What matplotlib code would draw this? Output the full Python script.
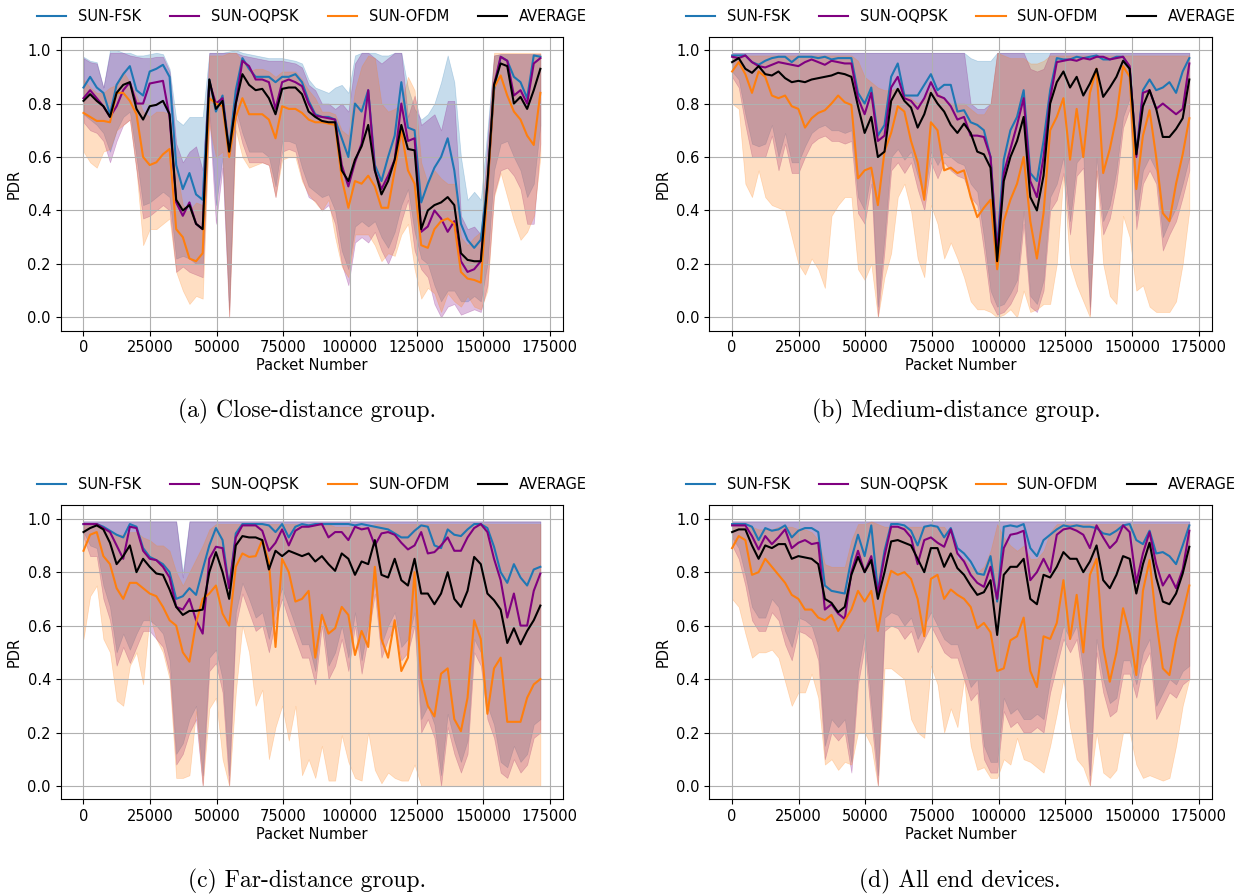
import numpy as np
import matplotlib
matplotlib.use("Agg")
import matplotlib.pyplot as plt

# x positions: packet number of each sample (70 samples, 0 .. 171500)
packet_number = np.linspace(0, 171500, 70)

series_names = ["SUN-FSK", "SUN-OQPSK", "SUN-OFDM", "AVERAGE"]
captions = ["(a) Close-distance group.", "(b) Medium-distance group.",
            "(c) Far-distance group.", "(d) All end devices."]
xticks = [0, 25000, 50000, 75000, 100000, 125000, 150000, 175000]
yticks = [0.0, 0.2, 0.4, 0.6, 0.8, 1.0]

# ---------------- panel (a): PDR in percent ----------------
a_fsk = [86,90,86,84,76,87,91,94,85,83,92,93,94.5,90,57,48,54,46,44,89,77,83,63,85,97,93,90,90,90,88,90,90,91,88,81,76,75,75,74,67,60,80,77,85,57,51,60,68,88,71,70,43,50,56,60,67,55,35,29,26,29,50,85,97.5,96,90,88,82,98,97.5]
a_oqpsk = [82,85,82,79,75,79,85,88,80,80,87.5,88,88.5,75,43,38,43,35,33,88,80,82,61,80,96,94,89,89,88,78,88,89,88,86.5,80,75.5,75,74.5,74,57,49,58,65,85,55,48,53,59,80,66,67,32,34,40,37,32,36,21,17,18,21,48,87,97.5,96,83,85,80,95,97]
a_ofdm = [76.5,75,73.5,73.5,73,84,84,81,76,60,57,58,61,63,33,30,22,21,24,82,80,79,60,75,82,76,76,76,74,67,79,78,78,76.5,74,73,73,72.5,72,52,41,51,50,53,49,41,41,55,70,55,50,27,26,33,36,37,35,17,14.5,14,13,47,86,90.5,83,77,74,68,64.5,84]
a_avg = [81,83.5,81,79,75,84,87,88,78,74,79,79.5,81,76,44,40,42,35,33,89,78,81,62,80,91,87,85,85.5,82,76,85.5,86,86,83.5,77,75,73.5,73,73,55,51,59,64,72,55,46,51,59,72,63,62.5,33,40,42,43,45,42,24,21.5,21,21,50,87,95,94,80,82.5,78,85,93]
a_fsk_hi = [97.5,96,95.5,86,100,100,99,99,98,98,98.5,99,98.5,93,74,72,75,75,75,99,99,99,99.5,100,99,98.5,98,97.5,97,97,97,96.5,96,95,89,86,85,84,86,87,84,98,99,99,99,98,98,99,99,86,78,74,76,80,88,98,88,60,44,47,44,70,98,98.5,98.5,98.5,98.5,98.5,98.5,98.5]
a_fsk_lo = [76,74,72,69,62,70,75,77,60,42,43,45,47,45,22,23,22,20,20,78,42,60,3,78,69,62,62,62,60,49,66,66,65,56,49,47,45,46,40,25,18,34,36,34,36,30,26,32,42,48,32,22,20,12,6,10,10,6,6,8,6,20,55,65,66,60,55,45,50,72]
a_oqpsk_hi = [97,95.5,95,86,99,99,99,98,97.5,97,97,97.5,97.5,92,65,58,62,64,55,99,99,99,99,99,98,97.5,97,96.5,96,96,96,95.5,95,93.5,87,85,80,80,78,80,77,95,99,99,97,95,97,99,99,75,83,72,74,76,70,81,81,38,33,34,31,66,98,98.5,98.5,98.5,98.5,98.5,98.5,98.5]
a_oqpsk_lo = [73,70,69,66,58,66,72,74,55,37,38,40,42,40,17,19,17,16,15,75,35,56,0,75,65,58,58,58,57,45,62,63,62,52,45,43.5,40,42,35,20,12,28,30,28,32,25,20,26,36,44,25,18,15,5,0,4,5,1,2,3,2,12,46,55,56,53,48,35,35,65]
a_ofdm_hi = [89,86,84,84,86,87,92,88,83,77,75,77,77,76,56,42,40,43,42,98,98,98,99,99,96,92,93,93,92,90,92,92,92,89,85,82,77,77,76,70,68,85,94,98,97,80,77,78,80,90,85,58,50,55,52,50,50,30,27,30,32,60,99,99,99,99,99,99,99,99]
a_ofdm_lo = [62,58,56,62,63,70,72,74,55,27,33,33,35,37,17,10,5,8,7,72,60,62,0,70,60,56,57,58,57,45,59,60,60,51,46,43,40,44,30,19,15,31,31,31,27,21,24,23,31,35,18,7,11,9,2,9,6,4,8,4,3,10,45,54,45,36,29,32,38,60]

# ---------------- panel (b) ----------------
b_fsk = [98,98,98,95.5,94.5,96,97,97.5,97.5,95.5,97.5,97.5,97.5,97,97.5,96.5,97,97,97,84,80,86,68,72,90,95,83,83,83,87,91,85,87,87,77,77.5,73,72,70,60,26,59,70,75,85,54,51,66,85,97,96.5,96.5,97.5,97,97.5,98,96.5,96.5,97.5,97.5,93,61,85,89,85,86,88,84,92,97]
b_oqpsk = [97.5,97,98,95.5,94,93.5,94.5,95.5,95,94.5,94,95.5,96.5,95.5,94.5,96,95.5,95,95,82,76,84,66,68,86,90,82,81,78,82,88,83,82,79,74,75,68,68,67.5,60,24,54,63,72,82,51,45,60,82,95.5,96,96.5,96,97,96.5,97.5,97.5,96.5,97,97.5,94,60,84,85,78,80,78,76,78,95]
b_ofdm = [92,95.5,91,84,92,90,83,82,83,79,78,71,74.5,76.5,77.5,80,83,80.5,79.5,52,55,56,42,62,69,79,77,66,58,44,73,70,55,56,54,55,45,37.5,41,44,18,36,44,50,60,36,22,39,70,75,82,59,78,60,84,93,54,63,75,94,90,48,68,77.5,60,39,36,50,61,74.5]
b_avg = [95.5,97,93,91.5,94,91,90.5,92,89.5,88,88.5,88,89,89.5,90,90.5,91.5,91,90,79,69,75,60,62,81,85.5,81,78.5,71,76,84,80,77,72,69,72.5,69,62,61,56,21,51,60,66,75,45,40,53,80,88,92,86,90,83,87.5,93,82.5,86,90,96,93,61,79,85,78,67.5,67.5,70.5,74.5,89]
b_fsk_hi = [99,99,99,99,99,99,99,99,99,99,99,99,99,99,99,99,99,99,99,99,99,99,99,99,99,99,99,99,99,99,99,99,99,99,99,99,97,96,96,96,99,99,99,99,99,99,99,99,99,99,99,99,99,99,99,99,99,99,99,99,99,99,99,99,99,99,99,99,99,99]
b_fsk_lo = [92,89,76,65,64,65,72,60,69,58,58,64,69,71,72,70,70,69,70,45,40,55,4,30,60,63,59,62,53,45,62,57,62,60,58,57,50,47,30,10,4,5,9,14,40,8,5,14,45,50,60,36,58,61,4,60,36,42,55,75,82,38,55,60,55,30,36,41,50,60]
b_oqpsk_hi = [99,99,99,99,99,99,99,99,99,99,99,99,99,99,99,99,99,99,99,99,99,99,99,99,99,99,99,99,99,99,99,99,99,99,99,99,80,78,78,80,99,99,99,99,99,93,92,93,99,99,99,99,99,99,99,99,99,99,99,99,99,99,99,99,99,99,99,99,99,99]
b_oqpsk_lo = [90,86,72,60,60,60,68,55,65,54,54,60,65,67,68,66,66,65,66,39,35,50,0,25,55,58,54,58,48,40,58,52,58,55,53,52,45,42,25,6,1,2,5,10,35,4,2,10,40,44,54,31,53,56,1,55,31,37,50,71,78,33,50,55,50,25,31,36,45,55]
b_ofdm_hi = [98,98,98,98,98,98,98,98,98,98,98,98,98,98,98,98,98,98,98,96,90,88,86,85,85,86,84,82,80,82,86,84,82,80,80,80,78,76,76,80,99,98,97,97,97,95,95,96,98,98,98,98,98,98,98,98,98,98,98,98,98,98,98,98,98,98,98,98,98,98]
b_ofdm_lo = [80,78,50,45,55,45,42,41,40,30,20,16,22,18,11,38,42,45,45,18,14,20,0,15,24,45,50,40,22,15,42,35,22,28,22,15,6,3,3,2,0,1,3,0,10,2,3,5,5,20,53,20,12,6,0,55,20,8,5,38,30,10,12,4,2,2,2,6,20,40]

# ---------------- panel (c) ----------------
c_fsk = [98,98,98,97,95.5,94,93,98,97,89,85.7,84.5,83,80,70,71,74,71.5,81,90,96.5,92,74,94.5,98,98,98,98,97.5,95,98,93,97,98,97.5,98,98,98,98,98,98,97.5,98,97.5,97,96.5,96,94.5,93,93,95.5,97.5,97,90,89,96,94,93.5,96,98,98,96.5,89.5,80,76,83,78,75,81,82]
c_oqpsk = [98,98,98,96.5,95,90,85,97,96.5,88,85,84.5,82,78,67,66,70,62,57,85,89.5,89,74,93,97.5,97.5,97.5,95.5,88,91,96,90,95.5,97,97,97.5,98,93,95,95,92,97,96,96.5,90,94.5,95,94,91,88.5,90,95,87,87.5,90,93,88,88,93,96.5,98,95,85,77,63,72,60,60,73,79.5]
c_ofdm = [88,94,95,86,83,74,70,76,76,74,72,71,67,62,60,50,46.5,61,70,72,75,64.5,60,82,87,85.7,86,92,84,52,85,80,69,70,73,48,64,57,59,67,64,49,58,52,82,55,48,62,43,48,80,40,30,26,42,44,25,20.5,33,62,55,27,44,48,24,24,24,33,38,40]
c_avg = [95,96.5,97.5,96,91,83,86,90,80,85,82,79.5,79,73.5,67,64,65.5,65.5,66,80,87.5,80,70,90,93.5,93,93,92,81,88,86,88,87,86,87,84,86,83,80.5,87,85,79,84,83,92,79,78,85,77,75,85,72,72,68,72,80,70,67,73,85.7,83,72,69.5,66,53.5,59,53,58,62,67.5]
c_fsk_hi = [99,99,99,99,99,99,99,99,99,99,99,99,99,99,99,80,99,99,99,99,99,99,99,99,99,99,99,99,99,99,99,99,99,99,99,99,99,99,99,99,99,99,99,99,99,99,99,99,99,99,99,99,99,99,99,99,99,99,99,99,99,99,99,99,99,99,99,99,99,99]
c_fsk_lo = [95,90,89,75,67,50,57,51,57,62,62,60,57,47,12,16,25,30,4,48,51,40,4,65,76,70,63,65,55,67,74,67,60,53,53,43,65,45,50,60,48,65,47,61,76,53,60,65,52,55,65,25,30,23,4,27,17,9,17,55,50,30,23,9,7,15,9,12,23,25]
c_oqpsk_hi = [99,99,99,99,99,99,99,99,99,99,99,99,99,99,99,78,99,99,99,99,99,99,99,99,99,99,99,99,99,99,99,99,99,99,99,99,99,99,99,99,99,99,99,99,99,99,99,99,99,99,99,99,99,99,99,99,99,99,99,99,99,99,99,99,99,99,99,99,99,99]
c_oqpsk_lo = [93,86,86,70,62,45,52,46,52,58,58,55,52,42,8,12,20,25,0,43,46,35,0,60,72,65,58,60,50,62,70,62,55,48,48,38,60,40,45,55,43,60,42,56,72,48,55,60,47,50,60,20,25,18,0,22,12,5,12,50,45,25,18,5,3,10,5,8,18,20]
c_ofdm_hi = [98,98,97,96,95,94,94,95,95,93,92,90,90,88,80,75,80,85,90,96,98,98,98,98,98,98,98,98,98,98,98,98,98,98,98,98,98,98,97,97,97,97,97,97,98,98,98,98,98,98,98,98,98,98,98,98,98,98,98,98,98,98,98,98,98,98,98,98,98,98]
c_ofdm_lo = [55,71,75,55,50,32,30,45,50,38,64,55,50,40,3,3,4,28,0,29,33,10,0,35,60,50,30,36,10,22,30,17,30,4,10,3,15,2,2,19,9,3,2,20,6,1,5,3,2,2,8,0,0,0,0,0,0,0,0,0,0,0,0,0,0,0,0,0,0,0]

# ---------------- panel (d) ----------------
d_fsk = [98,98,98,97,92,96.5,95.5,96,97.5,93,95.5,96.5,96.5,95,75,73,72.5,72,85,94,86,97.5,73,88,98,98,97.5,95.5,90,97,97.5,97,93,96.5,89,87,84,79.5,79,86,69,97,97.5,97,98,89,86,92,94,96,97.5,97,97.5,97,97,96.5,94.5,94,95.5,97.5,98,92,90.5,95.5,87,87.5,86,83,90,97.5]
d_oqpsk = [97.5,97.5,97.5,93.5,88.5,93.5,90.5,93,96,89,91,92,90.5,91,66,68,64.5,62.5,80,88,80,86,72,86,97,97,96,93,83,92,93,91,89.5,96,87,84,79,76,74.5,82,70,89,94,94.5,95.5,77,80,85,80,94,96,96.5,95.5,94,89,97.5,93,89,91.5,97.5,95,76,87,95,83,75,79,74,81,95.5]
d_ofdm = [89,93.5,92,79,80,85,82,79,76,71.5,70,66,66,63,62,64,58,62,66,73,69,73,58,72,80.5,79,80,77.5,70,56,77.5,79,70,73.5,71.5,70,67,59,61,57.5,43,44,54.5,56,63,43,37,56,55,61,77,55,71.5,50,79,85,52,39,50,66.5,57,41.5,73,84.5,62,44,41.5,55,64.5,75]
d_avg = [95,96,96,90,85,90,89,90.5,90.5,85,86,85.5,85,83,70,68.5,65,67,79,85.7,80,84.5,70,80,91.5,92,91,90,85,80,89,89,82,87,81.5,79,75,71.5,72.5,77,56.5,79,82,82,85,70,68,79,78,82,87.5,85,85,80,84,90,77,74,79,86,85,72,83,91,78,69,68,72,79.5,89.5]
d_fsk_hi = [99,99,99,99,99,99,99,99,99,99,99,99,99,99,99,99,99,99,99,99,99,99,99,99,99,99,99,99,99,99,99,99,99,99,99,99,99,99,99,99,99,99,99,99,99,99,99,99,99,99,99,99,99,99,99,99,99,99,99,99,99,99,99,99,99,99,99,99,99,99]
d_fsk_lo = [93,89,79,67,63,63,70,67,58,52,63,62,60,52,15,25,22,25,9,43,57,30,4,63,65,64,60,63,55,60,65,60,55,53,53,45,37,40,15,9,9,33,27,29,25,25,27,25,40,50,60,55,60,43,4,55,40,31,33,47,47,38,50,55,30,35,40,38,43,45]
d_oqpsk_hi = [99,99,99,99,99,99,99,99,99,99,99,99,99,99,99,99,99,99,99,99,99,99,99,99,99,99,99,99,99,99,99,99,99,99,99,99,99,99,99,99,99,99,99,99,99,99,99,99,99,99,99,99,99,99,99,99,99,99,99,99,99,99,99,99,99,99,99,99,99,99]
d_oqpsk_lo = [90,85,75,62,58,58,65,62,53,47,58,57,55,47,10,20,17,20,5,38,52,25,0,58,60,59,55,58,50,55,60,55,50,48,48,40,32,35,10,5,5,28,22,24,20,20,22,20,35,45,55,50,55,38,0,50,35,26,28,42,42,33,45,50,25,30,35,33,38,40]
d_ofdm_hi = [98,98,97,97,96,96,96,97,97,97,96,96,95,92,83,82,82,82,92,98,98,99,98,97,97,97,97,97,97,97,97,97,97,93,85,85,82,80,82,88,98,93,90,88,90,85,85,88,95,98,98,98,98,98,98,98,98,98,98,98,98,98,98,98,98,98,98,98,98,98]
d_ofdm_lo = [70,67,57,48,50,50,51,48,39,30,35,35,42,33,8,10,6,9,8,20,20,15,0,44,44,42,40,25,20,18,45,38,20,29,22,40,15,6,7,3,3,10,8,18,10,9,7,5,15,27,40,22,10,7,0,20,5,3,6,20,20,8,3,4,3,2,3,15,30,40]

panels = [
    dict(lines=[a_fsk, a_oqpsk, a_ofdm, a_avg],
         bands=[(a_fsk_lo, a_fsk_hi), (a_oqpsk_lo, a_oqpsk_hi), (a_ofdm_lo, a_ofdm_hi)]),
    dict(lines=[b_fsk, b_oqpsk, b_ofdm, b_avg],
         bands=[(b_fsk_lo, b_fsk_hi), (b_oqpsk_lo, b_oqpsk_hi), (b_ofdm_lo, b_ofdm_hi)]),
    dict(lines=[c_fsk, c_oqpsk, c_ofdm, c_avg],
         bands=[(c_fsk_lo, c_fsk_hi), (c_oqpsk_lo, c_oqpsk_hi), (c_ofdm_lo, c_ofdm_hi)]),
    dict(lines=[d_fsk, d_oqpsk, d_ofdm, d_avg],
         bands=[(d_fsk_lo, d_fsk_hi), (d_oqpsk_lo, d_oqpsk_hi), (d_ofdm_lo, d_ofdm_hi)]),
]

colors = ["#1f77b4", "#800080", "#ff7f0e", "#000000"]

FS = 10.5
fig = plt.figure(figsize=(12.48, 8.96), dpi=100)
rects = [[0.0486, 0.6309, 0.4027, 0.3281],
         [0.5683, 0.6309, 0.4030, 0.3281],
         [0.0486, 0.1079, 0.4027, 0.3281],
         [0.5683, 0.1079, 0.4030, 0.3281]]
cap_pos = [(0.2460, 0.5413), (0.7660, 0.5413), (0.2460, 0.0167), (0.7690, 0.0167)]

for p, rect, cap, cpos in zip(panels, rects, captions, cap_pos):
    ax = fig.add_axes(rect)
    for (lo, hi), c in zip(p["bands"], colors[:3]):
        ax.fill_between(packet_number, np.array(lo) / 100.0, np.array(hi) / 100.0,
                        color=c, alpha=0.25, linewidth=0.5)
    handles = []
    for vals, c, name in zip(p["lines"], colors, series_names):
        h, = ax.plot(packet_number, np.array(vals) / 100.0, color=c, lw=1.5, label=name)
        handles.append(h)
    ax.set_xticks(xticks)
    ax.set_yticks(yticks)
    ax.set_ylim(-0.05, 1.05)
    ax.grid(True, color="#b0b0b0", lw=0.8)
    ax.tick_params(labelsize=FS)
    ax.set_xlabel("Packet Number", fontsize=FS, labelpad=2)
    ax.set_ylabel("PDR", fontsize=FS)
    ax.legend(handles=handles, loc="lower center", bbox_to_anchor=(0.5, 1.0),
              ncol=4, frameon=False, fontsize=FS)
    fig.text(cpos[0], cpos[1], cap, ha="center", va="center",
             fontfamily="cmr10", fontsize=17)

fig.savefig("out.png", dpi=100)
